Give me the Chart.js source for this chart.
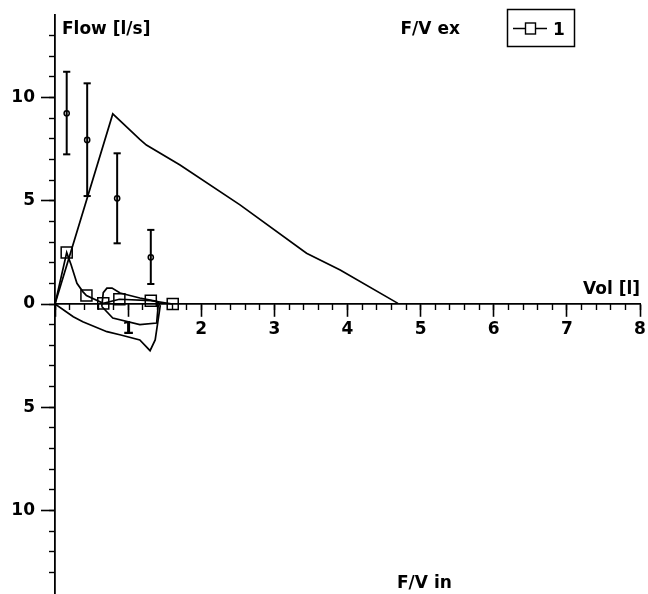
<!DOCTYPE html>
<html><head><meta charset="utf-8">
<script src="https://cdn.jsdelivr.net/npm/chart.js@4.4.1/dist/chart.umd.min.js"></script>
<style>html,body{margin:0;padding:0;background:#fff}</style>
</head><body>
<canvas id="c" width="648" height="594"></canvas>
<script>
// ---------- data ----------
const seriesName = '1';
// expiratory predicted curve (volume l, flow l/s)
const exVol  = [0, 0.79, 1.16, 1.25, 1.71, 2.53, 3.44, 3.90, 4.69];
const exFlow = [0, 9.21, 7.98, 7.70, 6.73, 4.80, 2.46, 1.65, 0.03];
// inspiratory predicted curve
const inVol  = [0, 0.25, 0.38, 0.71, 0.90, 1.16, 1.30, 1.37, 1.41, 1.44];
const inFlow = [0, -0.62, -0.86, -1.34, -1.50, -1.74, -2.26, -1.74, -0.78, -0.05];
// measured inner loop
const loopVol  = [0.64, 0.66, 0.71, 0.78, 0.89, 1.16, 1.39, 1.43, 1.41, 1.39, 1.16, 0.79, 0.64];
const loopFlow = [-0.12, 0.55, 0.77, 0.77, 0.53, 0.29, 0.13, 0.01, -0.12, -0.92, -1.00, -0.68, -0.12];
// series "1" curve
const s1Vol  = [0, 0.16, 0.22, 0.30, 0.38, 0.43, 0.66, 0.88, 1.31, 1.61];
const s1Flow = [0, 2.49, 1.90, 1.00, 0.60, 0.41, 0.03, 0.23, 0.16, 0.00];
// series "1" markers
const markVol  = [0.16, 0.43, 0.66, 0.88, 1.31, 1.61];
const markFlow = [2.49, 0.41, 0.03, 0.23, 0.16, 0.00];
// predicted mean +/- sd
const ebVol  = [0.16, 0.44, 0.85, 1.31];
const ebMean = [9.24, 7.95, 5.12, 2.26];
const ebHigh = [11.25, 10.69, 7.30, 3.59];
const ebLow  = [7.25, 5.23, 2.94, 0.97];
// axes
const xMin = 0, xMax = 8, xMajor = 1, xMinor = 0.2;
const yMin = -14, yMax = 14, yMajor = 5, yMinor = 1;
const titleFlow = 'Flow [l/s]', titleVol = 'Vol [l]', titleEx = 'F/V ex', titleIn = 'F/V in';

// ---------- build ----------
const pts = (xs, ys) => xs.map((x, i) => ({x, y: ys[i]}));
const FONT = '"DejaVu Sans", Verdana, sans-serif';
Chart.defaults.font.family = FONT;
Chart.defaults.font.size = 17;
Chart.defaults.font.weight = 'bold';
Chart.defaults.color = '#000';

const lineDs = (data) => ({type: 'scatter', data, showLine: true, borderColor: '#000', borderWidth: 1.7,
  pointRadius: 0, pointHoverRadius: 0, tension: 0, fill: false});

const datasets = [
  lineDs(pts(exVol, exFlow)),
  lineDs(pts(inVol, inFlow)),
  lineDs(pts(loopVol, loopFlow)),
  lineDs(pts(s1Vol, s1Flow)),
  {type: 'scatter', label: seriesName, data: pts(markVol, markFlow), showLine: false,
   pointStyle: 'rect', pointRadius: 7.8, borderColor: '#000', borderWidth: 1.5, backgroundColor: 'rgba(0,0,0,0)'},
];
ebVol.forEach((v, i) => {
  datasets.push({type: 'scatter', data: [{x: v, y: ebLow[i]}, {x: v, y: ebHigh[i]}], showLine: true,
    borderColor: '#000', borderWidth: 2, pointRadius: 0, tension: 0});
});
datasets.push({type: 'scatter', data: pts(ebVol.concat(ebVol), ebLow.concat(ebHigh)), showLine: false,
  pointStyle: 'line', pointRadius: 3.6, borderColor: '#000', borderWidth: 2});
datasets.push({type: 'scatter', data: pts(ebVol, ebMean), showLine: false,
  pointStyle: 'circle', pointRadius: 2.6, borderColor: '#000', borderWidth: 1.5, backgroundColor: '#fff'});

const textPlugin = {
  id: 'texts',
  afterDraw(chart) {
    const ctx = chart.ctx, a = chart.chartArea;
    ctx.save();
    ctx.fillStyle = '#000';
    ctx.font = 'bold 17px ' + FONT;
    ctx.textBaseline = 'alphabetic';
    ctx.textAlign = 'left';
    ctx.fillText(titleFlow, a.left + 7, 33.5);
    ctx.fillText(titleEx, 400.5, 33.5);
    ctx.fillText(titleIn, 397, 588);
    ctx.textAlign = 'right';
    ctx.fillText(titleVol, a.right, chart.scales.y.getPixelForValue(0) - 10);
    // legend
    ctx.lineWidth = 1.5;
    ctx.strokeStyle = '#000';
    ctx.strokeRect(507.5, 9.5, 67, 37);
    ctx.lineWidth = 1.4;
    ctx.beginPath(); ctx.moveTo(513, 28.5); ctx.lineTo(547, 28.5); ctx.stroke();
    ctx.fillStyle = '#fff';
    ctx.fillRect(525.5, 23, 10, 11);
    ctx.strokeRect(525.5, 23, 10, 11);
    ctx.fillStyle = '#000';
    ctx.textAlign = 'left';
    ctx.fillText(seriesName, 553, 34.5);
    ctx.restore();
  }
};

const noPad = (s) => { s.paddingLeft = 0; s.paddingRight = 0; s.paddingTop = 0; s.paddingBottom = 0; };

new Chart(document.getElementById('c'), {
  type: 'scatter',
  data: {datasets},
  options: {
    responsive: false, animation: false, events: [],
    layout: {autoPadding: false, padding: {left: 0, right: 8, top: 15, bottom: 1}},
    plugins: {legend: {display: false}, tooltip: {enabled: false}},
    scales: {
      x: {
        type: 'linear', position: {y: 0}, min: xMin, max: xMax,
        border: {display: true, color: '#000', width: 1.8},
        grid: {drawOnChartArea: false, drawTicks: true, tickLength: 12, tickColor: '#000', tickWidth: 1.6},
        ticks: {stepSize: xMajor, includeBounds: false, padding: 3, autoSkip: false, maxRotation: 0,
          font: {size: 17, weight: 'bold'}, color: '#000',
          callback: v => v === 0 ? '' : String(v)},
        afterFit: noPad
      },
      x2: {
        type: 'linear', position: {y: 0}, min: xMin, max: xMax,
        border: {display: false},
        grid: {drawOnChartArea: false, drawTicks: true, tickLength: 6, tickColor: '#000', tickWidth: 1.4},
        ticks: {display: false, stepSize: xMinor, includeBounds: false},
        afterFit: noPad
      },
      y: {
        type: 'linear', position: 'left', min: yMin, max: yMax,
        border: {display: true, color: '#000', width: 1.8},
        grid: {drawOnChartArea: false, drawTicks: true, tickLength: 14, tickColor: '#000', tickWidth: 1.6},
        ticks: {stepSize: yMajor, includeBounds: false, padding: 6, autoSkip: false,
          font: {size: 17, weight: 'bold'}, color: '#000',
          callback: v => String(Math.abs(v))},
        afterFit: (s) => { noPad(s); s.width = 55; }
      },
      y2: {
        type: 'linear', position: {x: 0}, min: yMin, max: yMax,
        border: {display: false},
        grid: {drawOnChartArea: false, drawTicks: true, tickLength: 6, tickColor: '#000', tickWidth: 1.4},
        ticks: {display: false, stepSize: yMinor, includeBounds: false},
        afterBuildTicks: (s) => { s.ticks = s.ticks.filter(t => Math.abs(t.value) < 13.5); },
        afterFit: noPad
      }
    }
  },
  plugins: [textPlugin]
});
</script>
</body></html>
